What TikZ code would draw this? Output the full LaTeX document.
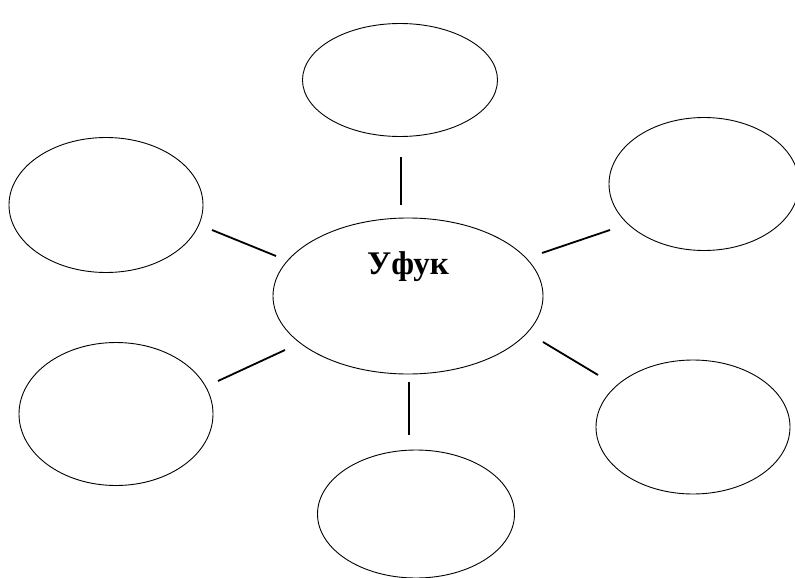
\documentclass[tikz,border=0pt]{standalone}
\usepackage{fontspec}
\setmainfont{Liberation Serif}
\usetikzlibrary{shapes.geometric}
\begin{document}
\begin{tikzpicture}[x=1pt,y=-1pt,
  bubble/.style={draw=black,line width=0.9pt,ellipse,inner sep=0pt},
  spoke/.style={draw=black,line width=1.8pt}]
\useasboundingbox (0,0) rectangle (795,578);
\begin{scope}
\clip (0,0) rectangle (795,578);
\node[bubble,minimum width=270pt,minimum height=156pt] (c) at (408,296) {};
\node[bubble,minimum width=195pt,minimum height=113pt] (t) at (400,80) {};
\node[bubble,minimum width=194pt,minimum height=135pt] (tl) at (106,205) {};
\node[bubble,minimum width=190pt,minimum height=133pt] (tr) at (704,184) {};
\node[bubble,minimum width=194pt,minimum height=143pt] (bl) at (116,414) {};
\node[bubble,minimum width=194pt,minimum height=134pt] (br) at (693,427) {};
\node[bubble,minimum width=197pt,minimum height=128pt] (b) at (416,514) {};
\end{scope}
\node[inner sep=0pt] (ct) at (408,267) {\fontsize{33}{36}\selectfont\bfseries Уфук};
\coordinate (t1) at (401,157); \coordinate (t2) at (401,205);
\coordinate (tl1) at (212,230); \coordinate (tl2) at (276,256);
\coordinate (tr1) at (542,253); \coordinate (tr2) at (610,230);
\coordinate (bl1) at (218,381); \coordinate (bl2) at (285,350);
\coordinate (b1) at (409,382); \coordinate (b2) at (409,435);
\coordinate (br1) at (543,342); \coordinate (br2) at (598,375);
\draw[spoke] (t1) -- (t2);
\draw[spoke] (tl1) -- (tl2);
\draw[spoke] (tr1) -- (tr2);
\draw[spoke] (bl1) -- (bl2);
\draw[spoke] (b1) -- (b2);
\draw[spoke] (br1) -- (br2);
\end{tikzpicture}
\end{document}
